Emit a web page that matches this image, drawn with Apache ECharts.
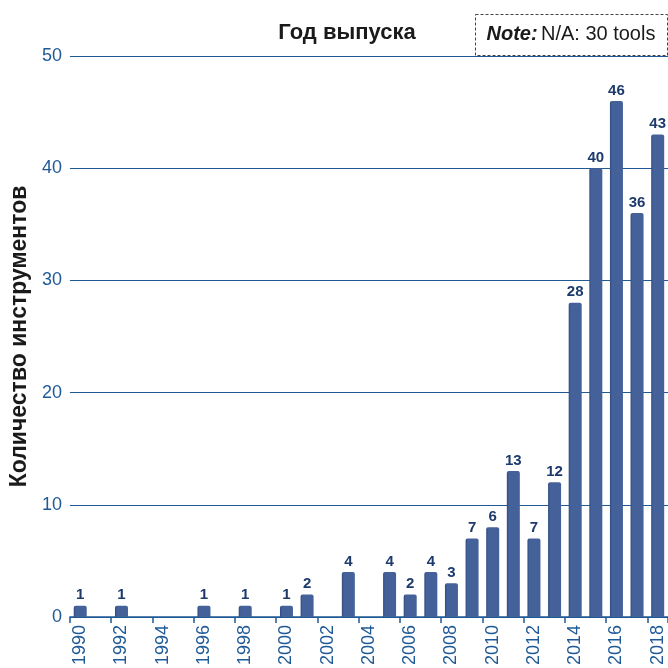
<!DOCTYPE html>
<html>
<head>
<meta charset="utf-8">
<script src="https://cdn.jsdelivr.net/npm/echarts@6/dist/echarts.min.js"></script>
<style>
  html, body { margin: 0; padding: 0; background: #fff; }
  #chart { width: 668px; height: 668px; }
</style>
</head>
<body>
<div id="chart"></div>
<script>
// release years on the x axis
const years = ['1990', '1991', '1992', '1993', '1994', '1995', '1996', '1997', '1998', '1999',
  '2000', '2001', '2002', '2003', '2004', '2005', '2006', '2007', '2008', '2009',
  '2010', '2011', '2012', '2013', '2014', '2015', '2016', '2017', '2018'];
// bar heights as drawn
const toolCounts = [1, 0, 1, 0, 0, 0, 1, 0, 1, 0,
  1, 2, 0, 4, 0, 4, 2, 4, 3, 7,
  8, 13, 7, 12, 28, 40, 46, 36, 43];
// printed labels (2010 is printed as 6 in the source)
const barLabels = ['1', '', '1', '', '', '', '1', '', '1', '',
  '1', '2', '', '4', '', '4', '2', '4', '3', '7',
  '6', '13', '7', '12', '28', '40', '46', '36', '43'];
const yTicks = [0, 10, 20, 30, 40, 50];

const blue = '#1f5a96';
const navy = '#1c3a6c';
const barColor = '#44619a';
const sans = '"Liberation Sans", Arial, sans-serif';

const chart = echarts.init(document.getElementById('chart'));

chart.setOption({
  animation: false,
  grid: { left: 67, right: 0, top: 56, bottom: 46, containLabel: false },
  title: {
    text: 'Год выпуска',
    left: 342,
    top: 17,
    textAlign: 'center',
    textStyle: { fontFamily: sans, fontSize: 22, fontWeight: 'bold', color: '#1a1a1a' }
  },
  graphic: [{
    type: 'group',
    left: 475,
    top: 14,
    children: [{
      type: 'rect',
      shape: { x: 0, y: 0, width: 192, height: 41 },
      style: { fill: '#fff', stroke: '#444', lineWidth: 1, lineDash: [3, 2] }
    }, {
      type: 'text',
      x: 11,
      y: 10,
      style: {
        text: '{b|Note:} {r|N/A: 30 tools}',
        rich: {
          b: { fontFamily: sans, fontSize: 20, fontWeight: 'bold', fontStyle: 'italic', fill: '#1a1a1a' },
          r: { fontFamily: sans, fontSize: 20, fill: '#1a1a1a' }
        }
      }
    }]
  }],
  xAxis: {
    type: 'category',
    data: years,
    boundaryGap: true,
    axisLine: { lineStyle: { color: blue, width: 1.5 } },
    axisTick: { show: true, alignWithLabel: false, length: 6, lineStyle: { color: blue, width: 1.5 } },
    axisLabel: {
      interval: 1,
      rotate: 90,
      margin: 8,
      fontFamily: sans,
      fontSize: 18,
      color: blue
    }
  },
  yAxis: {
    type: 'value',
    min: yTicks[0],
    max: yTicks[yTicks.length - 1],
    interval: 10,
    name: 'Количество инструментов',
    nameLocation: 'middle',
    nameGap: 36,
    nameTextStyle: { fontFamily: sans, fontSize: 23, fontWeight: 'bold', color: '#1a1a1a' },
    axisLine: { show: false },
    axisTick: { show: false },
    axisLabel: { margin: 8, fontFamily: sans, fontSize: 18, color: blue },
    splitLine: { lineStyle: { color: blue, width: 1.2 } }
  },
  series: [{
    type: 'bar',
    data: toolCounts,
    barWidth: 13,
    itemStyle: {
      color: {
        type: 'linear', x: 0, y: 0, x2: 1, y2: 0,
        colorStops: [
          { offset: 0, color: '#2f4a80' },
          { offset: 0.15, color: barColor },
          { offset: 1, color: barColor }
        ]
      },
      borderRadius: [2, 2, 0, 0]
    },
    label: {
      show: true,
      position: 'top',
      distance: 3,
      fontFamily: sans,
      fontSize: 15,
      fontWeight: 'bold',
      color: navy,
      formatter: p => barLabels[p.dataIndex]
    }
  }]
});
</script>
</body>
</html>
